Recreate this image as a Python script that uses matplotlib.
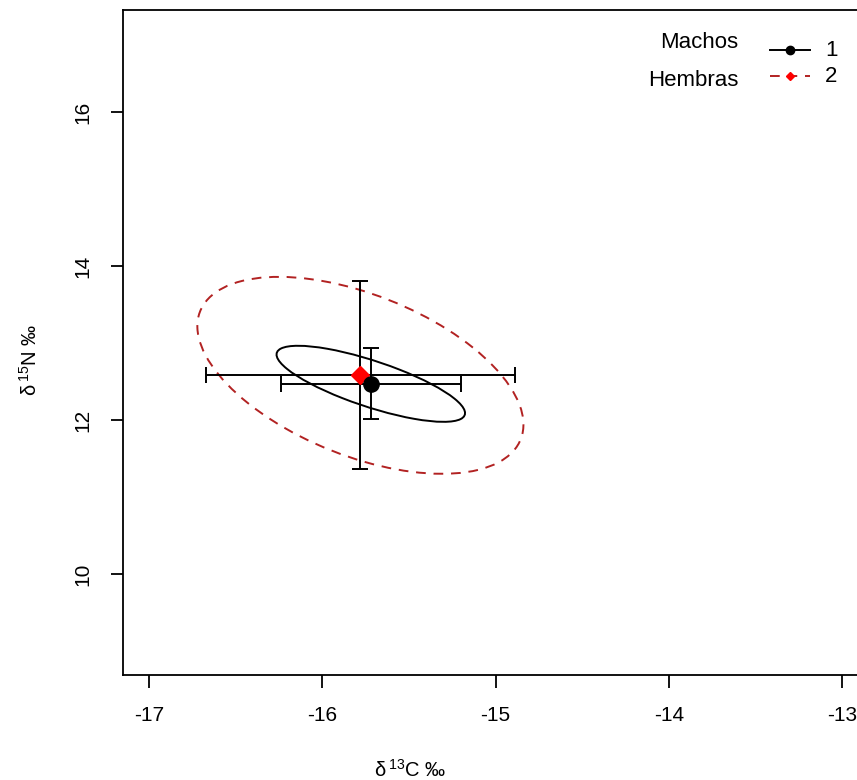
import numpy as np
import matplotlib
matplotlib.use("Agg")
import matplotlib.pyplot as plt
from matplotlib.patches import Ellipse

plt.rcParams['font.family'] = ['Liberation Sans', 'DejaVu Sans']
plt.rcParams['mathtext.fontset'] = 'custom'
plt.rcParams['mathtext.rm'] = 'Liberation Sans'
plt.rcParams['mathtext.it'] = 'Liberation Sans'

# group data (Machos = 1, Hembras = 2)
groups = ["Machos", "Hembras"]
group_codes = ["1", "2"]
mean_c = [-15.72, -15.78]
mean_n = [12.47, 12.58]
err_c = [0.52, 0.89]
err_n = [0.46, 1.22]
# standard ellipse parameters
sd_c = [0.544, 0.941]
sd_n = [0.494, 1.279]
rho = [-0.77, -0.50]

colors = ["black", "#B22222"]
point_colors = ["black", "red"]
markers = ["o", "D"]
line_styles = ["-", (0, (5, 4))]

xticks = [-17, -16, -15, -14, -13]
yticks = [10, 12, 14, 16]

fig = plt.figure(figsize=(8.57, 7.8), dpi=100)
ax = fig.add_axes([122.5 / 857, 105 / 780, (875 - 122.5) / 857, 665 / 780])

for i in range(2):
    cov = np.array([[sd_c[i] ** 2, rho[i] * sd_c[i] * sd_n[i]],
                    [rho[i] * sd_c[i] * sd_n[i], sd_n[i] ** 2]])
    vals, vecs = np.linalg.eigh(cov)
    ang = np.degrees(np.arctan2(vecs[1, 1], vecs[0, 1]))
    e = Ellipse((mean_c[i], mean_n[i]), 2 * np.sqrt(vals[1]), 2 * np.sqrt(vals[0]),
                angle=ang, fill=False, edgecolor=colors[i], lw=1.4,
                linestyle=line_styles[i], zorder=2)
    ax.add_patch(e)

for i in [1, 0]:
    ax.errorbar(mean_c[i], mean_n[i], xerr=err_c[i], yerr=err_n[i], fmt='none',
                ecolor='black', elinewidth=1.4, capsize=5.5, capthick=1.4, zorder=3)
for i in [1, 0]:
    ax.plot(mean_c[i], mean_n[i], marker=markers[i], color=point_colors[i],
            markersize=11 if i == 0 else 9, linestyle='none', zorder=4)

ax.set_xlim(-17.153, -12.81)
ax.set_ylim(8.688, 17.325)
ax.set_xticks(xticks)
ax.set_yticks(yticks)
ax.set_xticklabels([str(t) for t in xticks])
ax.set_yticklabels([str(t) for t in yticks], rotation=90, va='center')
ax.tick_params(direction='out', length=9, width=1.3, labelsize=15, pad=13)
for s in ax.spines.values():
    s.set_linewidth(1.3)

fig.text(410 / 857, 1 - 770 / 780, r'$\delta^{\,13}$C ‰', ha='center', va='center', fontsize=14.5)
fig.text(30 / 857, 1 - 360 / 780, r'$\delta^{\,15}$N ‰', ha='center', va='center', fontsize=14.5,
         rotation=90)

# legend drawn by hand
name_y = [42, 80]
line_y = [50, 76]
for i in range(2):
    fig.text(738 / 857, 1 - name_y[i] / 780, groups[i], ha='right', va='center', fontsize=16)
    fig.add_artist(plt.Line2D([770 / 857, 810 / 857], [1 - line_y[i] / 780] * 2,
                              color=colors[i], lw=1.4, linestyle=line_styles[i]))
    fig.add_artist(plt.Line2D([790 / 857], [1 - line_y[i] / 780], marker=markers[i],
                              color=point_colors[i], markersize=6 if i == 0 else 4))
    fig.text(825 / 857, 1 - line_y[i] / 780, group_codes[i], ha='left', va='center', fontsize=16)

fig.savefig("out.png", dpi=100)
